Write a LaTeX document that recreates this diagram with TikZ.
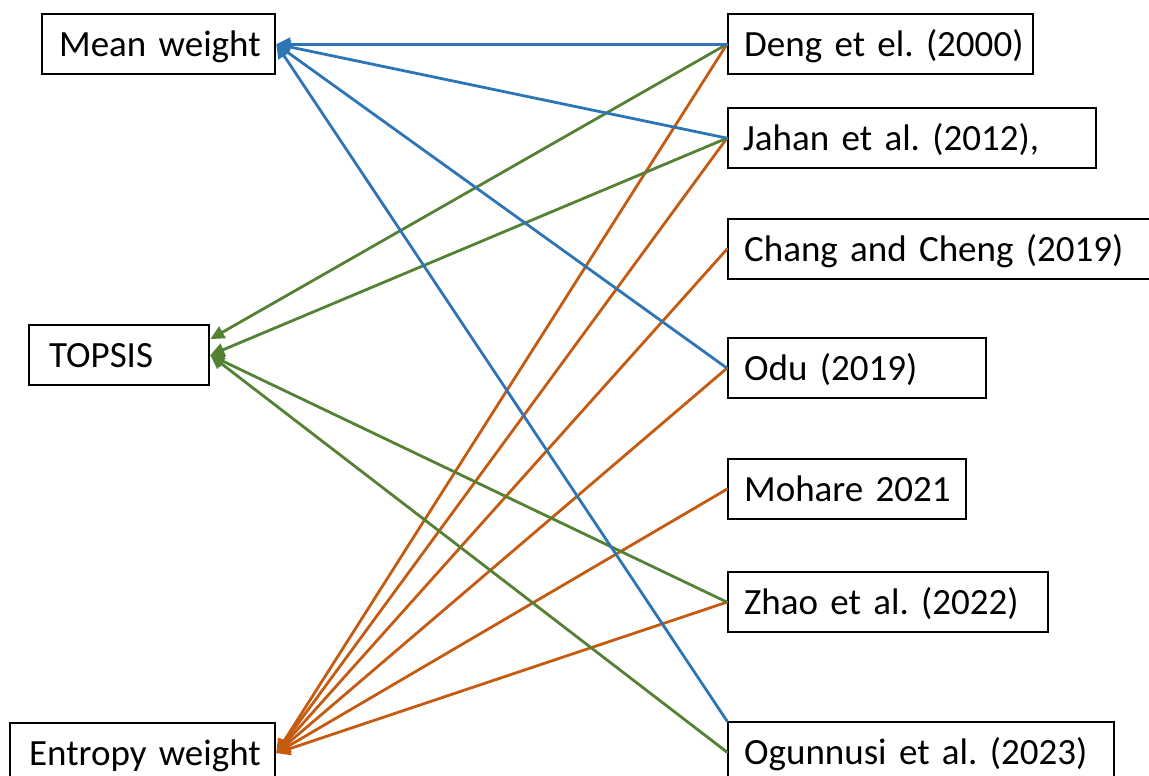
\documentclass[tikz,border=0pt]{standalone}
\usepackage{fontspec}
\setmainfont{Carlito}[WordSpace=0.8]
\usetikzlibrary{arrows.meta}
\definecolor{meanblue}{HTML}{2E75B6}
\definecolor{topsisgreen}{HTML}{548235}
\definecolor{entropyorange}{HTML}{C55A11}
\frenchspacing
\begin{document}
\begin{tikzpicture}[x=1pt,y=-1pt,
  box/.style={draw=black, line width=2.3pt, anchor=north west,
    minimum height=60pt, inner xsep=16pt, inner ysep=0pt,
    text height=24pt, text depth=0pt, align=left,
    font=\fontsize{37}{44}\selectfont\frenchspacing},
  link/.style={line width=2.8pt, line cap=round},
  tip/.style={-{Triangle[length=14pt,width=13pt]}},
  toMean/.style={link, tip, draw=meanblue},
  toTopsis/.style={link, tip, draw=topsisgreen},
  toEntropy/.style={link, tip, draw=entropyorange}]
\useasboundingbox (0,0) rectangle (1149,776);
\clip (0,0) rectangle (1149,776);
\fill[white] (0,0) rectangle (1149,776);

% methods (left column)
\node[box, inner xsep=17pt, text width=199pt] (mean) at (41,13) {\mbox{Mean weight}};
\node[box, inner xsep=20pt, text width=140pt] (topsis) at (28,324) {\mbox{TOPSIS}};
\node[box, inner xsep=19pt, text width=227pt] (entropy) at (9,722) {\mbox{Entropy weight}};
\coordinate (topsisup) at ([yshift=16pt]topsis.east);

% studies (right column)
\node[box, text width=273pt] (deng) at (727,13) {\mbox{Deng et el. (2000)}};
\node[box, inner xsep=15pt, text width=338pt] (jahan) at (727,107) {\mbox{Jahan et al. (2012),}};
\node[box, text width=408pt] (chang) at (727,218) {\mbox{Chang and Cheng (2019)}};
\node[box, text width=226pt] (odu) at (727,337) {\mbox{Odu (2019)}};
\node[box, text width=206pt] (mohare) at (727,458) {\mbox{Mohare 2021}};
\node[box, text width=288pt] (zhao) at (727,571) {\mbox{Zhao et al. (2022)}};
\node[box, text width=354pt] (ogun) at (727,721) {\mbox{Ogunnusi et al. (2023)}};

% entropy weight links
\draw[toEntropy] (deng.west) -- (entropy.east);
\draw[toEntropy] (jahan.west) -- (entropy.east);
\draw[toEntropy] (chang.west) -- (entropy.east);
\draw[toEntropy] (odu.west) -- (entropy.east);
\draw[toEntropy] (mohare.west) -- (entropy.east);
\draw[toEntropy] (zhao.west) -- (entropy.east);

% TOPSIS links
\draw[toTopsis] (deng.west) -- (topsisup);
\draw[toTopsis] (jahan.west) -- (topsis.east);
\draw[toTopsis] (zhao.west) -- (topsis.east);
\draw[toTopsis] (ogun.west) -- (topsis.east);

% mean weight links
\draw[toMean] (deng.west) -- (mean.east);
\draw[toMean] (jahan.west) -- (mean.east);
\draw[toMean] (odu.west) -- (mean.east);
\draw[toMean] (ogun.north west) -- (mean.east);
\end{tikzpicture}
\end{document}
